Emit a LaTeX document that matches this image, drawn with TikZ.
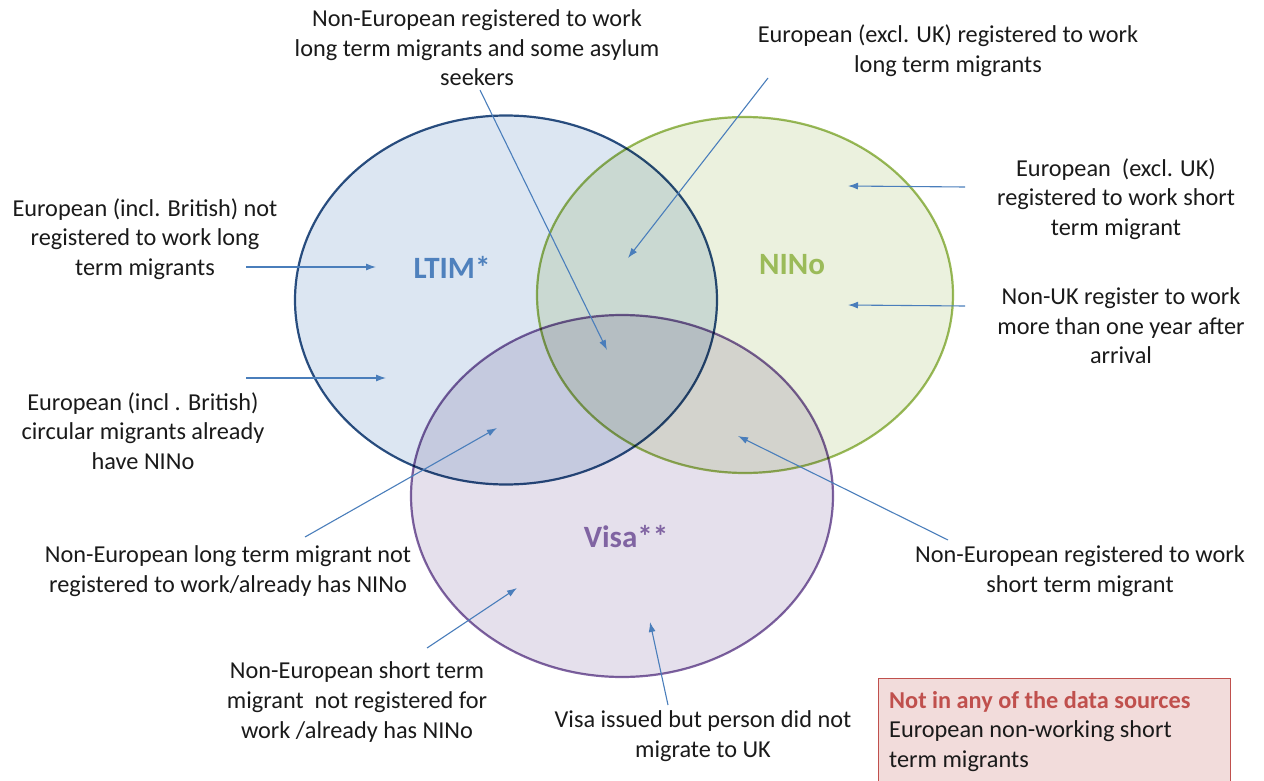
\documentclass[tikz,border=0pt]{standalone}
\usepackage{fontspec}
\setmainfont{Carlito}
\usetikzlibrary{shapes.geometric,arrows.meta}
\definecolor{ltimline}{HTML}{2C5182}
\definecolor{ltimfill}{HTML}{DCE6F2}
\definecolor{ltimtext}{HTML}{4F81BD}
\definecolor{ninoline}{HTML}{9BBB59}
\definecolor{ninofill}{HTML}{EBF1DE}
\definecolor{visaline}{HTML}{8064A2}
\definecolor{visafill}{HTML}{E5E0EC}
\definecolor{arrowc}{HTML}{4A7EBB}
\definecolor{boxline}{HTML}{C0504D}
\definecolor{boxfill}{HTML}{F2DCDB}
\definecolor{txt}{HTML}{1A1A1A}
\tikzset{
  setshape/.style={ellipse, line width=2.2pt},
  lbl/.style={align=center, text=txt, inner sep=0pt, font=\fontsize{24.3}{29.6}\selectfont},
  setname/.style={font=\fontsize{31}{36}\selectfont\bfseries, inner sep=0pt},
  pointer/.style={draw=arrowc, line width=1.1pt, -{Latex[length=10pt,width=7pt]}}
}
\begin{document}
\begin{tikzpicture}[x=1pt,y=-1pt]
\useasboundingbox (0,0) rectangle (1264,781);
% sets
\begin{scope}[blend group=multiply]
\node[setshape, draw=ltimline, fill=ltimfill, minimum width=422pt, minimum height=369pt] (ltim) at (506,300) {};
\node[setshape, draw=ninoline, fill=ninofill, minimum width=416pt, minimum height=356pt] (nino) at (745,295) {};
\node[setshape, draw=visaline, fill=visafill, minimum width=422pt, minimum height=362pt] (visa) at (622,496) {};
\end{scope}
\node[setname, text=ltimtext] (ltimname) at (452,267) {LTIM*};
\node[setname, text=ninoline] (nininame) at (792,265) {NINo};
\node[setname, text=visaline] (visaname) at (626,537) {Visa**};
% labels
\node[lbl] (t1) at (477,48) {Non-European registered to work\\long term migrants and some asylum\\seekers};
\node[lbl] (t2) at (948,51) {European (excl. UK) registered to work\\long term migrants};
\node[lbl] (t3) at (1116,199) {European\ \ (excl. UK)\\registered to work short\\term migrant};
\node[lbl] (t4) at (1121,326) {Non-UK register to work\\more than one year after\\arrival};
\node[lbl] (t5) at (145,239) {European (incl. British) not\\registered to work long\\term migrants};
\node[lbl] (t6) at (143,431) {European (incl . British)\\circular migrants already\\have NINo};
\node[lbl] (t7) at (228,571) {Non-European long term migrant not\\registered to work/already has NINo};
\node[lbl] (t8) at (1080,571) {Non-European registered to work\\short term migrant};
\node[lbl] (t9) at (357,702) {Non-European short term\\migrant\ \ not registered for\\work /already has NINo};
\node[lbl] (t10) at (703,736) {Visa issued but person did not\\migrate to UK};
% box
\node[draw=boxline, fill=boxfill, line width=1.3pt, anchor=north west, minimum width=352pt, minimum height=130pt, inner sep=0pt] (box) at (878,678) {};
\node[lbl, align=left, anchor=north west] (boxtext) at (889,691) {{\color{boxline}\bfseries Not in any of the data sources}\\European non-working short\\term migrants};
% arrow ends
\coordinate (s1) at (480,90);   \coordinate (e1) at (607,350);
\coordinate (s2) at (768,78);   \coordinate (e2) at (628,258);
\coordinate (s3) at (965,187);  \coordinate (e3) at (848,186);
\coordinate (s4) at (965,306);  \coordinate (e4) at (848,305);
\coordinate (s5) at (246,267);  \coordinate (e5) at (376,267);
\coordinate (s6) at (246,378);  \coordinate (e6) at (386,378);
\coordinate (s7) at (305,537);  \coordinate (e7) at (497,428);
\coordinate (s8) at (948,540);  \coordinate (e8) at (738,436);
\coordinate (s9) at (427,648);  \coordinate (e9) at (517,588);
\coordinate (s10) at (668,705); \coordinate (e10) at (650,622);
\foreach \i in {1,...,10} { \draw[pointer] (s\i) -- (e\i); }
\end{tikzpicture}
\end{document}
